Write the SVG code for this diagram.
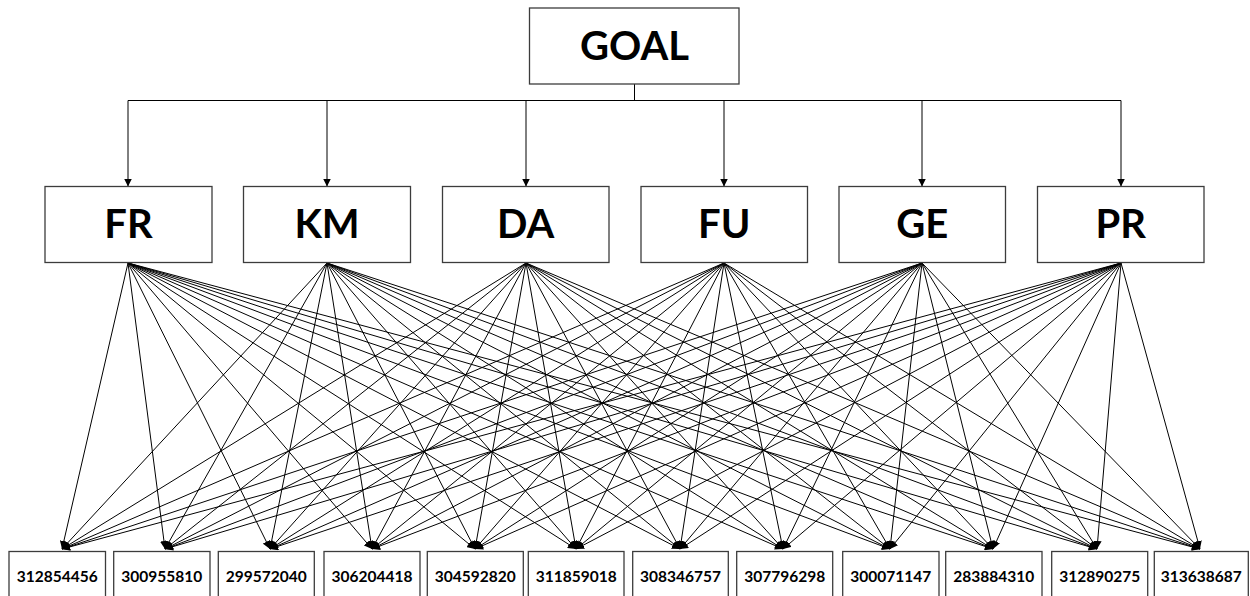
<svg xmlns="http://www.w3.org/2000/svg" width="1250" height="596" viewBox="0 0 1250 596">
<style>
.box{fill:#fff;stroke:#3c3c3c;stroke-width:1.3}
.big{font-family:Lato,"Open Sans","Liberation Sans",sans-serif;font-weight:700;font-size:40px;text-anchor:middle;fill:#000}
.num{font-family:Lato,"Open Sans","Liberation Sans",sans-serif;font-weight:700;font-size:15.5px;text-anchor:middle;fill:#000}
.c{stroke:#000;stroke-width:1;fill:none}
.a{marker-end:url(#ah)}
</style>
<defs>
<marker id="ah" viewBox="0 0 10 10" refX="10" refY="5" markerWidth="8" markerHeight="8" markerUnits="userSpaceOnUse" orient="auto">
<path d="M0,0 L10,5 L0,10 z" fill="#000"/>
</marker>
</defs>
<rect width="1250" height="596" fill="#fff"/>
<g id="connectors">
<path class="c" d="M634.5 84 V100.5 M128 100.5 H1121"/>
<line class="c a" x1="128" y1="100.5" x2="128" y2="186.5"/>
<line class="c a" x1="327" y1="100.5" x2="327" y2="186.5"/>
<line class="c a" x1="526" y1="100.5" x2="526" y2="186.5"/>
<line class="c a" x1="724" y1="100.5" x2="724" y2="186.5"/>
<line class="c a" x1="922" y1="100.5" x2="922" y2="186.5"/>
<line class="c a" x1="1121" y1="100.5" x2="1121" y2="186.5"/>
<g id="fr-links">
<line class="c a" x1="128" y1="263" x2="62" y2="549"/>
<line class="c a" x1="128" y1="263" x2="165" y2="549"/>
<line class="c a" x1="128" y1="263" x2="270" y2="549"/>
<line class="c a" x1="128" y1="263" x2="372" y2="549"/>
<line class="c a" x1="128" y1="263" x2="475" y2="549"/>
<line class="c a" x1="128" y1="263" x2="576" y2="549"/>
<line class="c a" x1="128" y1="263" x2="680" y2="549"/>
<line class="c a" x1="128" y1="263" x2="783" y2="549"/>
<line class="c a" x1="128" y1="263" x2="890" y2="549"/>
<line class="c a" x1="128" y1="263" x2="993" y2="549"/>
<line class="c a" x1="128" y1="263" x2="1097" y2="549"/>
<line class="c a" x1="128" y1="263" x2="1200" y2="549"/>
</g>
<g id="km-links">
<line class="c a" x1="327" y1="263" x2="62" y2="549"/>
<line class="c a" x1="327" y1="263" x2="165" y2="549"/>
<line class="c a" x1="327" y1="263" x2="270" y2="549"/>
<line class="c a" x1="327" y1="263" x2="372" y2="549"/>
<line class="c a" x1="327" y1="263" x2="475" y2="549"/>
<line class="c a" x1="327" y1="263" x2="576" y2="549"/>
<line class="c a" x1="327" y1="263" x2="680" y2="549"/>
<line class="c a" x1="327" y1="263" x2="783" y2="549"/>
<line class="c a" x1="327" y1="263" x2="890" y2="549"/>
<line class="c a" x1="327" y1="263" x2="993" y2="549"/>
<line class="c a" x1="327" y1="263" x2="1097" y2="549"/>
<line class="c a" x1="327" y1="263" x2="1200" y2="549"/>
</g>
<g id="da-links">
<line class="c a" x1="526" y1="263" x2="62" y2="549"/>
<line class="c a" x1="526" y1="263" x2="165" y2="549"/>
<line class="c a" x1="526" y1="263" x2="270" y2="549"/>
<line class="c a" x1="526" y1="263" x2="372" y2="549"/>
<line class="c a" x1="526" y1="263" x2="475" y2="549"/>
<line class="c a" x1="526" y1="263" x2="576" y2="549"/>
<line class="c a" x1="526" y1="263" x2="680" y2="549"/>
<line class="c a" x1="526" y1="263" x2="783" y2="549"/>
<line class="c a" x1="526" y1="263" x2="890" y2="549"/>
<line class="c a" x1="526" y1="263" x2="993" y2="549"/>
<line class="c a" x1="526" y1="263" x2="1097" y2="549"/>
<line class="c a" x1="526" y1="263" x2="1200" y2="549"/>
</g>
<g id="fu-links">
<line class="c a" x1="724" y1="263" x2="62" y2="549"/>
<line class="c a" x1="724" y1="263" x2="165" y2="549"/>
<line class="c a" x1="724" y1="263" x2="270" y2="549"/>
<line class="c a" x1="724" y1="263" x2="372" y2="549"/>
<line class="c a" x1="724" y1="263" x2="475" y2="549"/>
<line class="c a" x1="724" y1="263" x2="576" y2="549"/>
<line class="c a" x1="724" y1="263" x2="680" y2="549"/>
<line class="c a" x1="724" y1="263" x2="783" y2="549"/>
<line class="c a" x1="724" y1="263" x2="890" y2="549"/>
<line class="c a" x1="724" y1="263" x2="993" y2="549"/>
<line class="c a" x1="724" y1="263" x2="1097" y2="549"/>
<line class="c a" x1="724" y1="263" x2="1200" y2="549"/>
</g>
<g id="ge-links">
<line class="c a" x1="922" y1="263" x2="62" y2="549"/>
<line class="c a" x1="922" y1="263" x2="165" y2="549"/>
<line class="c a" x1="922" y1="263" x2="270" y2="549"/>
<line class="c a" x1="922" y1="263" x2="372" y2="549"/>
<line class="c a" x1="922" y1="263" x2="475" y2="549"/>
<line class="c a" x1="922" y1="263" x2="576" y2="549"/>
<line class="c a" x1="922" y1="263" x2="680" y2="549"/>
<line class="c a" x1="922" y1="263" x2="783" y2="549"/>
<line class="c a" x1="922" y1="263" x2="890" y2="549"/>
<line class="c a" x1="922" y1="263" x2="993" y2="549"/>
<line class="c a" x1="922" y1="263" x2="1097" y2="549"/>
<line class="c a" x1="922" y1="263" x2="1200" y2="549"/>
</g>
<g id="pr-links">
<line class="c a" x1="1121" y1="263" x2="62" y2="549"/>
<line class="c a" x1="1121" y1="263" x2="165" y2="549"/>
<line class="c a" x1="1121" y1="263" x2="270" y2="549"/>
<line class="c a" x1="1121" y1="263" x2="372" y2="549"/>
<line class="c a" x1="1121" y1="263" x2="475" y2="549"/>
<line class="c a" x1="1121" y1="263" x2="576" y2="549"/>
<line class="c a" x1="1121" y1="263" x2="680" y2="549"/>
<line class="c a" x1="1121" y1="263" x2="783" y2="549"/>
<line class="c a" x1="1121" y1="263" x2="890" y2="549"/>
<line class="c a" x1="1121" y1="263" x2="993" y2="549"/>
<line class="c a" x1="1121" y1="263" x2="1097" y2="549"/>
<line class="c a" x1="1121" y1="263" x2="1200" y2="549"/>
</g>
</g>
<g id="goal"><rect class="box" x="529.5" y="8" width="209.5" height="76"/><text class="big" x="634.5" y="60">GOAL</text></g>
<g id="fr"><rect class="box" x="45" y="186.5" width="167" height="76"/><text class="big" x="128.5" y="238">FR</text></g>
<g id="km"><rect class="box" x="243.5" y="186.5" width="167" height="76"/><text class="big" x="327" y="238">KM</text></g>
<g id="da"><rect class="box" x="442.5" y="186.5" width="166.5" height="76"/><text class="big" x="525.7" y="238">DA</text></g>
<g id="fu"><rect class="box" x="641" y="186.5" width="166.5" height="76"/><text class="big" x="724.2" y="238">FU</text></g>
<g id="ge"><rect class="box" x="839" y="186.5" width="166.5" height="76"/><text class="big" x="922.2" y="238">GE</text></g>
<g id="pr"><rect class="box" x="1037.5" y="186.5" width="166.5" height="76"/><text class="big" x="1120.7" y="238">PR</text></g>
<g id="n1"><rect class="box" x="9" y="551.5" width="96.5" height="50"/><text class="num" x="57.3" y="581.5">312854456</text></g>
<g id="n2"><rect class="box" x="113.7" y="551.5" width="96.3" height="50"/><text class="num" x="161.8" y="581.5">300955810</text></g>
<g id="n3"><rect class="box" x="218.3" y="551.5" width="96" height="50"/><text class="num" x="266.3" y="581.5">299572040</text></g>
<g id="n4"><rect class="box" x="324" y="551.5" width="96" height="50"/><text class="num" x="372" y="581.5">306204418</text></g>
<g id="n5"><rect class="box" x="427.3" y="551.5" width="96" height="50"/><text class="num" x="475.3" y="581.5">304592820</text></g>
<g id="n6"><rect class="box" x="528.3" y="551.5" width="95.7" height="50"/><text class="num" x="576.2" y="581.5">311859018</text></g>
<g id="n7"><rect class="box" x="632.7" y="551.5" width="95.6" height="50"/><text class="num" x="680.5" y="581.5">308346757</text></g>
<g id="n8"><rect class="box" x="736.7" y="551.5" width="96" height="50"/><text class="num" x="784.7" y="581.5">307796298</text></g>
<g id="n9"><rect class="box" x="842.7" y="551.5" width="96.3" height="50"/><text class="num" x="890.8" y="581.5">300071147</text></g>
<g id="n10"><rect class="box" x="945.7" y="551.5" width="96.3" height="50"/><text class="num" x="993.8" y="581.5">283884310</text></g>
<g id="n11"><rect class="box" x="1051.7" y="551.5" width="96" height="50"/><text class="num" x="1099.7" y="581.5">312890275</text></g>
<g id="n12"><rect class="box" x="1154.3" y="551.5" width="94" height="50"/><text class="num" x="1201.3" y="581.5">313638687</text></g>
</svg>
